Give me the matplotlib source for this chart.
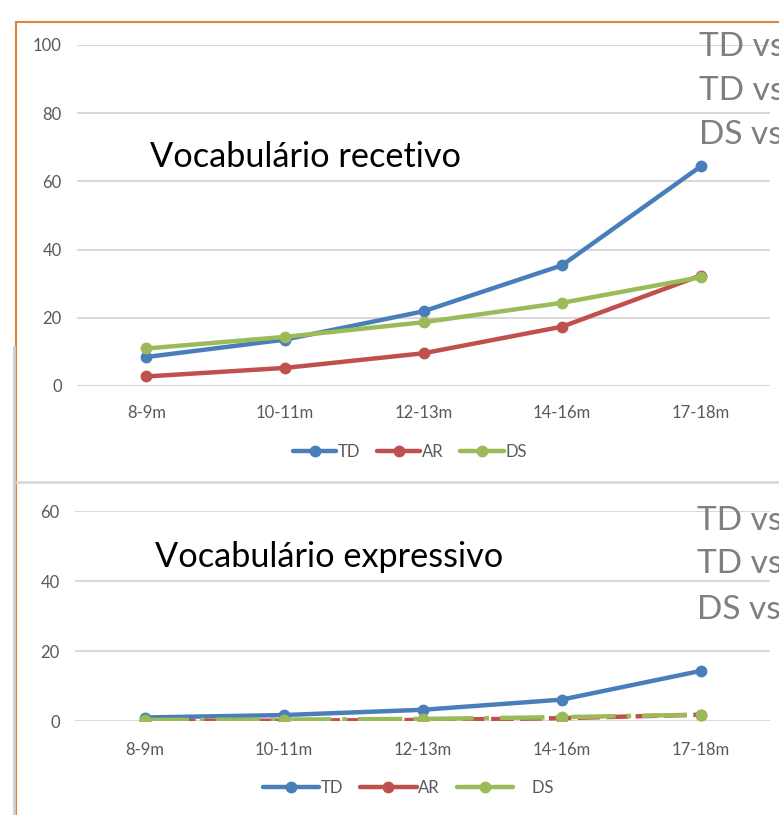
import matplotlib.pyplot as plt
from matplotlib.lines import Line2D

# data
ages = ['8-9m', '10-11m', '12-13m', '14-16m', '17-18m']
rec_td = [8.5, 13.6, 21.9, 35.4, 64.4]
rec_ar = [2.8, 5.3, 9.6, 17.4, 32.4]
rec_ds = [11.0, 14.4, 18.7, 24.4, 31.9]
exp_td = [1.0, 1.7, 3.2, 6.1, 14.3]
exp_ar = [0.0, 0.1, 0.3, 0.8, 1.8]
exp_ds = [0.3, 0.4, 0.6, 1.1, 1.8]

BLUE = '#4a7ebb'
RED = '#c0504d'
GREEN = '#9bbb59'
GRAY_TXT = '#595959'

plt.rcParams['font.family'] = ['Lato', 'DejaVu Sans']

W, H = 779, 815
fig = plt.figure(figsize=(W / 100, H / 100), dpi=100)

def px_axes(x0, x1, ytop, ybot):
    return fig.add_axes([x0 / W, 1 - ybot / H, (x1 - x0) / W, (ybot - ytop) / H])

def style(ax, ymax, step, xpad):
    ax.set_xlim(-0.5, 4.5)
    ax.set_ylim(0, ymax)
    ax.set_yticks(range(0, ymax + 1, step))
    ax.set_xticks(range(len(ages)))
    ax.set_xticklabels(ages)
    for s in ax.spines.values():
        s.set_visible(False)
    ax.grid(axis='y', color='#d9d9d9', lw=1.5)
    ax.set_axisbelow(True)
    ax.tick_params(length=0, labelsize=12, colors=GRAY_TXT)
    ax.tick_params(axis='y', pad=11)
    ax.tick_params(axis='x', pad=xpad)
    ax.patch.set_alpha(0)

x = list(range(len(ages)))
kw = dict(lw=3.2, marker='o', ms=7.5, solid_capstyle='round')

# top chart: receptive vocabulary
ax1 = px_axes(77, 770, 45, 386)
style(ax1, 100, 20, 14)
ax1.plot(x, rec_td, color=BLUE, label='TD', **kw)
ax1.plot(x, rec_ar, color=RED, label='AR', **kw)
ax1.plot(x, rec_ds, color=GREEN, label='DS', **kw)
ax1.legend(loc='center', bbox_to_anchor=((410 - 77) / 693, (386 - 452) / 341), ncol=3,
           frameon=False, fontsize=12, handlelength=2.6, handletextpad=0.1,
           columnspacing=1.0, labelcolor=GRAY_TXT)
fig.text(150 / W, 1 - 167 / H, 'Vocabulário recetivo', fontsize=24.7, va='baseline')

# bottom chart: expressive vocabulary
ax2 = px_axes(75, 770, 511, 721)
style(ax2, 60, 20, 15)
ax2.plot(x, exp_td, color=BLUE, label='TD', **kw)
ax2.plot(x, exp_ar, color=RED, ls=(0, (5, 1.5)), label='AR', **kw)
ax2.plot(x, exp_ds, color=GREEN, ls=(0, (10, 2.5, 1, 2.5)), label='DS', **kw)
h_td = Line2D([], [], color=BLUE, **kw)
h_ar = Line2D([], [], color=RED, **kw)
h_ds = Line2D([], [], color=GREEN, **kw)
ax2.legend([h_td, h_ar, h_ds], ['TD', 'AR', '    DS'], loc='center',
           bbox_to_anchor=((408 - 75) / 695, (721 - 788) / 210), ncol=3, frameon=False,
           fontsize=12, handlelength=3.4, handletextpad=0.1, columnspacing=1.0,
           labelcolor=GRAY_TXT)
fig.text(155 / W, 1 - 567 / H, 'Vocabulário expressivo', fontsize=24.7, va='baseline')

# gray overlay labels, cut by the right edge as in the pasted slide
for yb, t in ((56, 'TD vs'), (100, 'TD vs'), (144, 'DS vs')):
    fig.text(699 / W, 1 - yb / H, t, fontsize=24, color='#7f7f7f', va='baseline')
for yb, t in ((530, 'TD vs'), (573, 'TD vs'), (619, 'DS vs.')):
    fig.text(697 / W, 1 - yb / H, t, fontsize=24, color='#7f7f7f', va='baseline')

# frame lines of the pasted charts
fig.add_artist(Line2D([16 / W, 1], [1 - 22 / H] * 2, color='#e0863a', lw=1.5))
fig.add_artist(Line2D([16 / W] * 2, [0, 1 - 22 / H], color='#e0863a', lw=1.5))
fig.add_artist(Line2D([13.5 / W] * 2, [0, 1 - 347 / H], color='#cfcfcf', lw=2))
fig.add_artist(Line2D([17 / W, 1], [1 - 482 / H] * 2, color='#d9d9d9', lw=2))

fig.savefig('out.png', dpi=100)
